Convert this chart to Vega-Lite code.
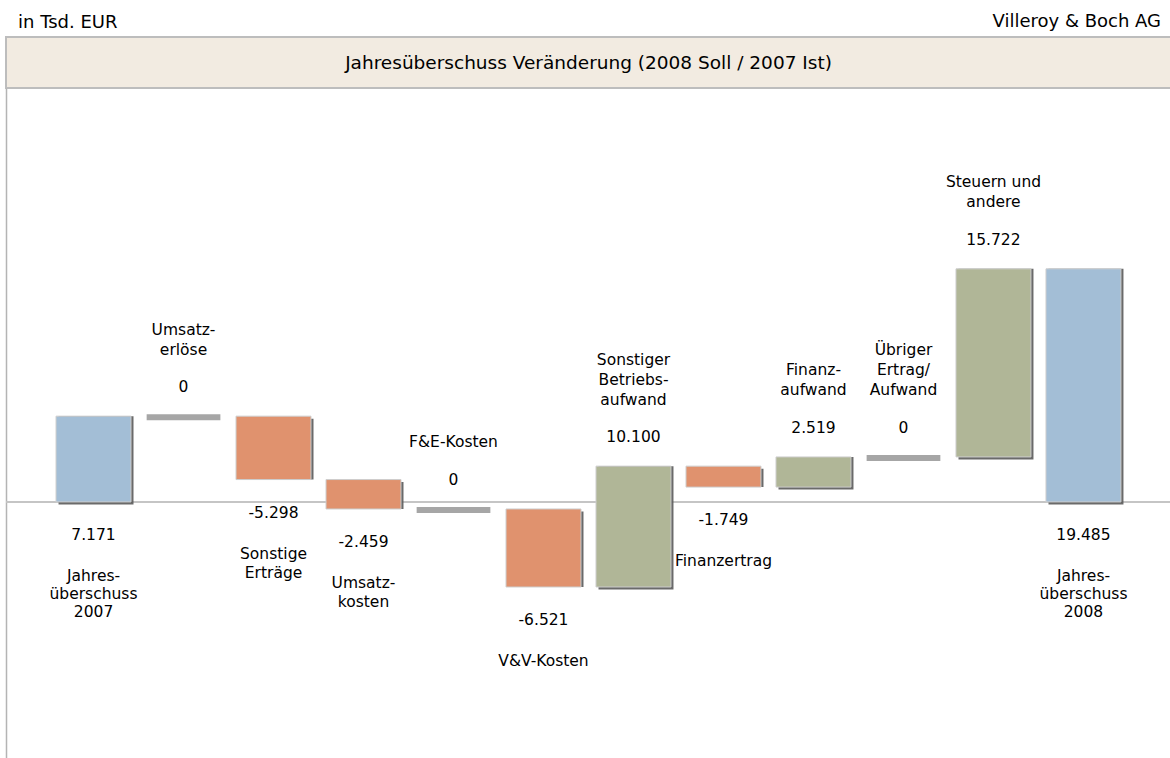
{
  "$schema": "https://vega.github.io/schema/vega-lite/v6.json",
  "padding": {"left": 5, "top": 12, "right": 0, "bottom": 0},
  "spacing": 0,
  "bounds": "flush",
  "title": {"text": "in Tsd. EUR", "anchor": "start", "fontSize": 18, "fontWeight": "normal", "color": "#000000", "dx": 13, "dy": 22, "offset": 2},
  "config": {
    "font": "DejaVu Sans",
    "view": {"stroke": null},
    "locale": {"number": {"decimal": ",", "thousands": ".", "grouping": [3], "currency": ["", " €"], "minus": "-"}}
  },
  "datasets": {
    "steps": [
      {"key": "Jahresüberschuss 2007", "name": ["Jahres-", "überschuss", "2007"], "value": 7171, "start": 0, "end": 7171, "type": "total"},
      {"key": "Umsatzerlöse", "name": ["Umsatz-", "erlöse"], "value": 0, "start": 7171, "end": 7171, "type": "zero"},
      {"key": "Sonstige Erträge", "name": ["Sonstige", "Erträge"], "value": -5298, "start": 7171, "end": 1873, "type": "neg"},
      {"key": "Umsatzkosten", "name": ["Umsatz-", "kosten"], "value": -2459, "start": 1873, "end": -586, "type": "neg"},
      {"key": "F&E-Kosten", "name": ["F&E-Kosten"], "value": 0, "start": -586, "end": -586, "type": "zero"},
      {"key": "V&V-Kosten", "name": ["V&V-Kosten"], "value": -6521, "start": -586, "end": -7107, "type": "neg"},
      {"key": "Sonstiger Betriebsaufwand", "name": ["Sonstiger", "Betriebs-", "aufwand"], "value": 10100, "start": -7107, "end": 2993, "type": "pos"},
      {"key": "Finanzertrag", "name": ["Finanzertrag"], "value": -1749, "start": 2993, "end": 1244, "type": "neg"},
      {"key": "Finanzaufwand", "name": ["Finanz-", "aufwand"], "value": 2519, "start": 1244, "end": 3763, "type": "pos"},
      {"key": "Übriger Ertrag/Aufwand", "name": ["Übriger", "Ertrag/", "Aufwand"], "value": 0, "start": 3763, "end": 3763, "type": "zero"},
      {"key": "Steuern und andere", "name": ["Steuern und", "andere"], "value": 15722, "start": 3763, "end": 19485, "type": "pos"},
      {"key": "Jahresüberschuss 2008", "name": ["Jahres-", "überschuss", "2008"], "value": 19485, "start": 0, "end": 19485, "type": "total"}
    ],
    "header": [{"t": "Jahresüberschuss Veränderung (2008 Soll / 2007 Ist)"}]
  },
  "vconcat": [
    {
      "width": 1165,
      "height": 51,
      "view": {"fill": "#F2EBE1", "stroke": "#BDBDBD", "strokeWidth": 2},
      "title": {"text": "Villeroy & Boch AG", "anchor": "end", "fontSize": 18, "fontWeight": "normal", "color": "#000000", "dx": -10, "offset": 6},
      "data": {"name": "header"},
      "mark": {"type": "text", "fontSize": 18.5, "color": "#000000"},
      "encoding": {"text": {"field": "t", "type": "nominal"}}
    },
    {
      "width": 1165,
      "height": 670,
      "data": {"name": "steps"},
      "encoding": {
        "x": {"field": "key", "type": "nominal", "sort": null, "axis": null,
              "scale": {"domain": ["Jahresüberschuss 2007", "Umsatzerlöse", "Sonstige Erträge", "Umsatzkosten", "F&E-Kosten", "V&V-Kosten", "Sonstiger Betriebsaufwand", "Finanzertrag", "Finanzaufwand", "Übriger Ertrag/Aufwand", "Steuern und andere", "Jahresüberschuss 2008"],
                        "paddingInner": 0.167, "paddingOuter": 0.556}}
      },
      "layer": [
        {
          "mark": {"type": "rule", "color": "#C4C4C4", "strokeWidth": 1.5},
          "encoding": {"x": null, "y": {"datum": 0, "type": "quantitative"}}
        },
        {
          "transform": [{"filter": "datum.type != 'zero'"}],
          "mark": {"type": "bar", "color": "#5A5A5A", "xOffset": 2.5, "yOffset": 2.5, "opacity": 0.9},
          "encoding": {
            "y": {"field": "start", "type": "quantitative",
                  "scale": {"domain": [-21400, 34600], "nice": false, "zero": false},
                  "axis": {"domain": true, "domainColor": "#B4B4B4", "domainWidth": 1.5, "labels": false, "ticks": false, "grid": false, "title": null}},
            "y2": {"field": "end"}
          }
        },
        {
          "transform": [{"filter": "datum.type != 'zero'"}],
          "mark": {"type": "bar", "stroke": "#CDCDCD", "strokeWidth": 1},
          "encoding": {
            "y": {"field": "start", "type": "quantitative"},
            "y2": {"field": "end"},
            "color": {"field": "type", "type": "nominal", "legend": null,
                      "scale": {"domain": ["total", "neg", "pos"], "range": ["#A3BED6", "#E0926E", "#B0B697"]}}
          }
        },
        {
          "transform": [{"filter": "datum.type == 'zero'"}],
          "mark": {"type": "bar", "fill": "#A6A6A6", "stroke": "#A6A6A6", "strokeWidth": 4, "yOffset": 2, "width": {"band": 0.93}},
          "encoding": {
            "y": {"field": "start", "type": "quantitative"},
            "y2": {"field": "end"}
          }
        },
        {
          "transform": [{"filter": "datum.type == 'pos' || datum.type == 'zero'"}],
          "mark": {"type": "text", "fontSize": 15.5, "baseline": "middle", "dy": -29, "color": "#000000"},
          "encoding": {
            "y": {"field": "end", "type": "quantitative"},
            "text": {"field": "value", "type": "quantitative", "format": ",.0f"}
          }
        },
        {
          "transform": [{"filter": "(datum.type == 'pos' || datum.type == 'zero') && length(datum.name) == 1"}],
          "mark": {"type": "text", "fontSize": 15.5, "baseline": "top", "dy": -73.5, "lineHeight": 20, "color": "#000000"},
          "encoding": {
            "y": {"field": "end", "type": "quantitative"},
            "text": {"field": "name", "type": "nominal"}
          }
        },
        {
          "transform": [{"filter": "(datum.type == 'pos' || datum.type == 'zero') && length(datum.name) == 2"}],
          "mark": {"type": "text", "fontSize": 15.5, "baseline": "top", "dy": -93.5, "lineHeight": 20, "color": "#000000"},
          "encoding": {
            "y": {"field": "end", "type": "quantitative"},
            "text": {"field": "name", "type": "nominal"}
          }
        },
        {
          "transform": [{"filter": "(datum.type == 'pos' || datum.type == 'zero') && length(datum.name) == 3"}],
          "mark": {"type": "text", "fontSize": 15.5, "baseline": "top", "dy": -113.5, "lineHeight": 20, "color": "#000000"},
          "encoding": {
            "y": {"field": "end", "type": "quantitative"},
            "text": {"field": "name", "type": "nominal"}
          }
        },
        {
          "transform": [{"filter": "datum.type == 'neg'"}],
          "mark": {"type": "text", "fontSize": 15.5, "baseline": "middle", "dy": 33, "color": "#000000"},
          "encoding": {
            "y": {"field": "end", "type": "quantitative"},
            "text": {"field": "value", "type": "quantitative", "format": ",.0f"}
          }
        },
        {
          "transform": [{"filter": "datum.type == 'neg'"}],
          "mark": {"type": "text", "fontSize": 15.5, "baseline": "top", "dy": 67, "lineHeight": 19, "color": "#000000"},
          "encoding": {
            "y": {"field": "end", "type": "quantitative"},
            "text": {"field": "name", "type": "nominal"}
          }
        },
        {
          "transform": [{"filter": "datum.type == 'total'"}],
          "mark": {"type": "text", "fontSize": 15.5, "baseline": "middle", "dy": 33, "color": "#000000"},
          "encoding": {
            "y": {"field": "start", "type": "quantitative"},
            "text": {"field": "value", "type": "quantitative", "format": ",.0f"}
          }
        },
        {
          "transform": [{"filter": "datum.type == 'total'"}],
          "mark": {"type": "text", "fontSize": 15.5, "baseline": "top", "dy": 67, "lineHeight": 18, "color": "#000000"},
          "encoding": {
            "y": {"field": "start", "type": "quantitative"},
            "text": {"field": "name", "type": "nominal"}
          }
        }
      ]
    }
  ]
}
